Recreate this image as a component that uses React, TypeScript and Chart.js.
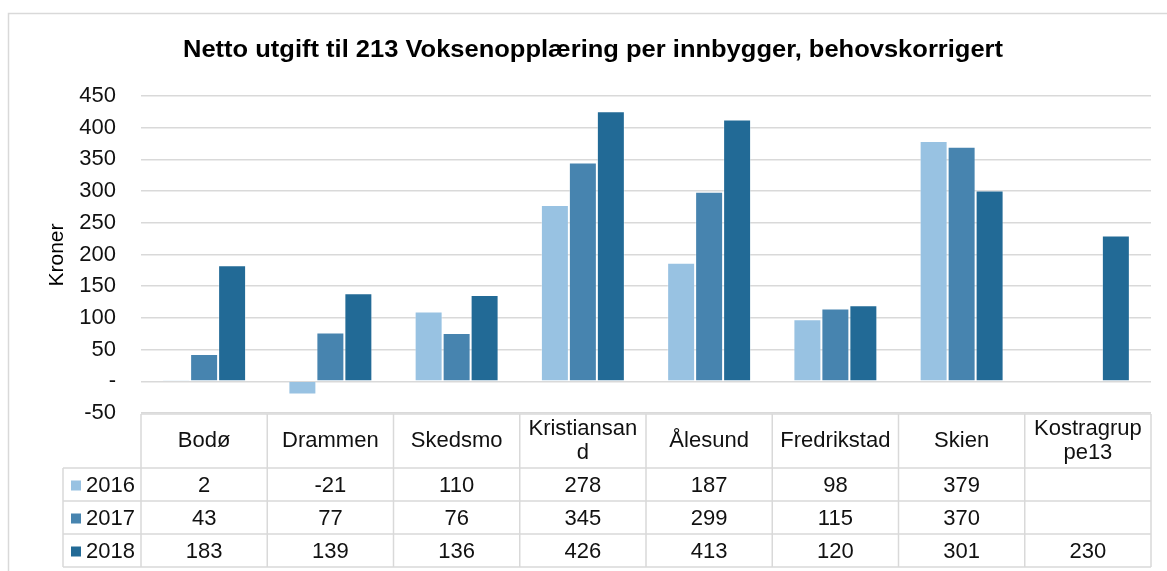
import React, { useEffect, useRef } from "react";
import { Chart, registerables } from "chart.js";

Chart.register(...registerables);

const title = "Netto utgift til 213 Voksenopplæring per innbygger, behovskorrigert";
const yAxisTitle = "Kroner";
const categories = ["Bodø", "Drammen", "Skedsmo", "Kristiansand", "Ålesund", "Fredrikstad", "Skien", "Kostragruppe13"];
const seriesLabels = ["2016", "2017", "2018"];
const values2016: (number | null)[] = [2, -21, 110, 278, 187, 98, 379, null];
const values2017: (number | null)[] = [43, 77, 76, 345, 299, 115, 370, null];
const values2018: (number | null)[] = [183, 139, 136, 426, 413, 120, 301, 230];
const yMin = -50;
const yMax = 450;
const yStep = 50;

const colors = ["#98C2E2", "#4784AF", "#226A96"];
const FONT = "'Liberation Sans', Arial, sans-serif";
const GRID = "#d9d9d9";
const TXT = 22;

function wrapChars(ctx: CanvasRenderingContext2D, text: string, maxW: number): string[] {
  const lines: string[] = [];
  let cur = "";
  for (const ch of text) {
    if (cur && ctx.measureText(cur + ch).width > maxW) {
      lines.push(cur);
      cur = ch;
    } else cur += ch;
  }
  if (cur) lines.push(cur);
  return lines;
}

const decorPlugin = {
  id: "decor",
  beforeDraw(chart: any) {
    const ctx = chart.ctx as CanvasRenderingContext2D;
    ctx.save();
    ctx.fillStyle = "#fff";
    ctx.fillRect(0, 0, chart.width, chart.height);
    ctx.strokeStyle = GRID;
    ctx.lineWidth = 1.5;
    ctx.strokeRect(8.5, 13.5, chart.width + 20, chart.height + 20);
    ctx.restore();
  },
  afterDraw(chart: any) {
    const ctx = chart.ctx as CanvasRenderingContext2D;
    const area = chart.chartArea;
    const xs = chart.scales.x;
    const n = categories.length;
    const cw = (area.right - area.left) / n;
    const top = area.bottom + 1;
    const headH = 54;
    const rowH = 33;
    const legendLeft = area.left - 78;
    const bottom = top + headH + rowH * 3;
    ctx.save();
    // title
    ctx.fillStyle = "#000";
    ctx.font = `bold 24px ${FONT}`;
    ctx.textAlign = "left";
    ctx.textBaseline = "alphabetic";
    const tw = ctx.measureText(title).width;
    const targetW = 820;
    ctx.save();
    ctx.translate(183, 57);
    ctx.scale(targetW / tw, 1);
    ctx.fillText(title, 0, 0);
    ctx.restore();
    // y title
    ctx.save();
    ctx.translate(63, 255);
    ctx.rotate(-Math.PI / 2);
    ctx.textAlign = "center";
    ctx.font = `21px ${FONT}`;
    ctx.fillText(yAxisTitle, 0, 0);
    ctx.restore();

    // table lines
    ctx.strokeStyle = GRID;
    ctx.lineWidth = 1.5;
    ctx.beginPath();
    ctx.moveTo(area.left, top);
    ctx.lineTo(area.right, top);
    for (let r = 0; r <= 3; r++) {
      const y = top + headH + r * rowH;
      ctx.moveTo(legendLeft, y);
      ctx.lineTo(area.right, y);
    }
    ctx.moveTo(legendLeft, top + headH);
    ctx.lineTo(legendLeft, bottom);
    for (let i = 0; i <= n; i++) {
      const x = area.left + i * cw;
      ctx.moveTo(x, top);
      ctx.lineTo(x, bottom);
    }
    ctx.stroke();

    // header
    ctx.fillStyle = "#111";
    ctx.font = `${TXT}px ${FONT}`;
    ctx.textAlign = "center";
    ctx.textBaseline = "middle";
    categories.forEach((c, i) => {
      const cx = xs.getPixelForValue(i);
      const lines = wrapChars(ctx, c, cw - 12);
      const lh = 24;
      const cy = top + headH / 2 - ((lines.length - 1) * lh) / 2;
      lines.forEach((l, k) => ctx.fillText(l, cx, cy + k * lh));
    });
    // rows
    const series = [values2016, values2017, values2018];
    series.forEach((vals, r) => {
      const cy = top + headH + r * rowH + rowH / 2 + 1;
      ctx.fillStyle = colors[r];
      ctx.fillRect(legendLeft + 8, cy - 5, 10, 10);
      ctx.fillStyle = "#111";
      ctx.textAlign = "left";
      ctx.fillText(seriesLabels[r], legendLeft + 23, cy);
      ctx.textAlign = "center";
      vals.forEach((v, i) => {
        if (v === null) return;
        ctx.fillText(String(v), xs.getPixelForValue(i), cy);
      });
    });
    ctx.restore();
  },
};

export default function App() {
  const ref = useRef<HTMLCanvasElement | null>(null);
  useEffect(() => {
    if (!ref.current) return;
    const seriesVals = [values2016, values2017, values2018];
    const chart = new Chart(ref.current, {
      type: "bar",
      data: {
        labels: categories,
        datasets: seriesLabels.map((l, i) => ({
          label: l,
          data: seriesVals[i],
          backgroundColor: colors[i],
          borderColor: "rgba(255,255,255,0.35)",
          borderWidth: 1,
          categoryPercentage: 0.665,
          barPercentage: 1,
        })),
      },
      options: {
        responsive: false,
        animation: false,
        maintainAspectRatio: false,
        layout: { padding: { top: 96, bottom: 158, right: 16, left: 0 } },
        plugins: { legend: { display: false }, title: { display: false }, tooltip: { enabled: false } },
        scales: {
          x: { display: false },
          y: {
            min: yMin,
            max: yMax,
            border: { display: false },
            grid: { color: GRID, lineWidth: 1.5, drawTicks: false },
            afterFit: (s: any) => {
              s.width = 141;
            },
            ticks: {
              stepSize: yStep,
              padding: 25,
              color: "#111",
              font: { family: FONT, size: TXT },
              callback: (v: any) => (Number(v) === 0 ? "-" : String(v)),
            },
          },
        },
      },
      plugins: [decorPlugin],
    });
    return () => chart.destroy();
  }, []);
  return (
    <div style={{ position: "absolute", left: 0, top: 0, width: 1167, height: 571 }}>
      <canvas ref={ref} width={1167} height={571} style={{ display: "block" }} />
    </div>
  );
}
